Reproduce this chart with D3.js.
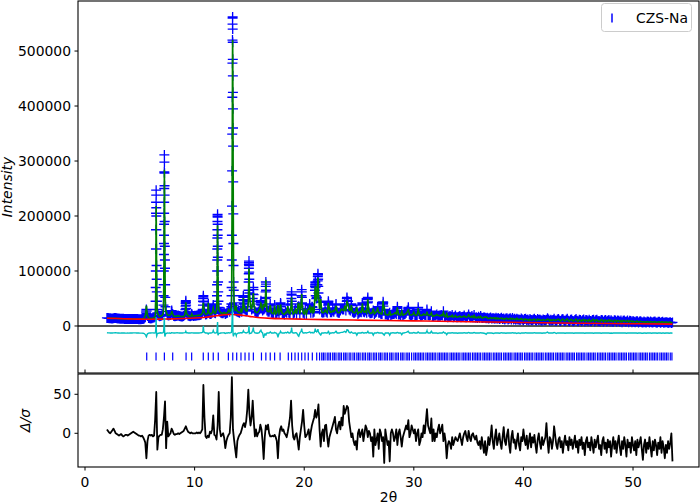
<!DOCTYPE html>
<html><head><meta charset="utf-8">
<script src="https://cdn.jsdelivr.net/npm/d3@7"></script>
<style>body{margin:0;background:#fff}svg{display:block}text{font-family:"DejaVu Sans",sans-serif;font-size:13.9px;fill:#000}</style>
</head><body><svg id="c" width="700" height="504"></svg>
<script>
// ---------- DATA ----------
const INTENSITY_UNIT = 1000; // intensities below are in thousands of counts
// regular scan: 2.0 .. 53.6 step 0.1
const scanStart = 2.0, scanStep = 0.1;
const yobsScan = [
14.6,14.4,14.1,13.9,13.7,13.8,14.0,14.3,14.6,14.0,
13.5,13.4,13.2,13.2,13.1,13.0,12.9,12.9,12.8,12.8,
12.7,12.7,12.6,12.7,12.8,12.9,12.9,12.7,12.5,12.4,
12.3,12.4,12.6,12.8,13.5,16.0,30.0,18.0,14.5,14.0,
13.8,14.2,14.8,15.5,17.0,215,24,19,17.5,18,
19,21,130,105,26,20,19,19.5,20,26,
22,18,17.5,18,18.5,19,18,17.5,17.2,17.2,
18,20,46,22,19,18,17.8,18.5,19,18.2,
18.5,18.8,19,19.3,19.6,20,21,24,55,25,
21,21.5,24,24,22,22,24,38,24,23,
30,198,30,26,24,23,23,25,22,23,
24,30,26,29,165,395,42,28,32,26,
25,24,27,26,35,40,30,27,28,45,
60,35,30,50,45,27,25,24,26,30,
40,38,28,30,32,80,28,26,26,40,
24,23,22,38,22,23,30,22,28,30,
23,22,21,26,24,38,24,22,40,30,
22,24,30,22,30,36,22,40,42,24,
22,30,22,30,32,40,24,35,24,26,
75,50,75,60,30,45,25,24,25,30,
26,24,45,30,25,25,28,26,30,40,
26,24,24,28,32,30,30,40,28,52,
45,30,28,40,26,24,24,26,30,22,
24,26,25,42,26,25,28,24,52,26,
23,23,24,28,22,24,26,35,24,24,
22,22,44,30,21,21,20,20,24,20,
21,22,22,24,22,35,21,21,20,24,
20,21,22,24,28,34,21,20,20,21,
26,20,19,20,34,22,19,19,20,22,
20,20,30,20,19,20,27,18,18,19,
19,21,18,19,18,20,19,27,18,17,
19,16,17,18,17,20,16,17,19,16,
16,17,18,16,16.5,17,19,16,16,17,
21,17,16,18,15.5,20,15,16,14.5,17,
15,18,15,14.5,16,15,14,15,13.5,14,
15.5,13.5,14,14,13,15,13,14.5,12.5,13.5,
15,12.5,13.5,12,13.5,14,12,13,14,12,
14.5,12,13,11.5,13,12,12,11,13.5,12,
10.5,12.5,13,11,12,10,12.5,11,10.5,12,
13,11,10,12.5,11,12,10.5,9.5,12,11,
10.5,11.5,14,12,9.5,11.5,10,11,13,10,
9.5,12,12.5,10,9,12,12.5,10,9,11.5,
13,9.5,8.5,11.5,12,9,8.5,11,12.5,9.5,
8.5,11.5,11,8.5,10.5,12,8,11,10.5,8.5,
11.5,9,8.5,11,11.5,8,10.5,11.5,8.5,9,
8,11,10.5,7.5,10,11,8,9.5,11,8,
10.5,8,7.5,10.5,10,7.5,10,9.5,7.5,10,
7,9.5,10,7.5,8,10,7,9.5,9,7,
9,7.5,7,8.5,8.5,6.5,8,8.5,7,6.5,
8,7,6.5,8,7.5,6.5,8,7,6.5,7.5,
8,6.5,6,7.5,7.5,6,7,7.5,6,6.5,
7,7,5.5,6.5,7,5.5,6.5];
// observed minus calculated on the scan (thousands of counts)
const ydiffScan = [
0.3,0.2,0.1,0,-0.1,0,0.2,0.3,0.5,0.2,
0,-0.1,-0.2,-0.1,0,-0.1,-0.1,-0.2,-0.2,-0.1,
-0.2,-0.1,-0.1,0,0.1,0.2,0.2,0,-0.1,-0.1,
-0.2,-0.2,-0.3,-0.4,-1.0,-3.0,-7.0,-1.5,-0.3,0,
0,0.2,0.2,0,0.3,18,-1,-0.5,0,0.3,
0,0.3,12,-5.5,-1,0,-0.2,0,-0.5,0.5,
0.2,0,0,0.1,0.3,0.2,0,0,0,0,
0.2,0.5,3,0.5,0,0,0,0.2,0.2,0,
0,0,0,0,0,0.2,0.3,1,13,1,
0,0,-0.3,-0.3,0,0,0.5,4.5,0.3,0,
0.5,17,-1,-0.5,0,0.1,0.2,0.3,-1,0,
0,0.5,0,0.5,14,3,-2,-0.5,-5,-1,
0,0,0.5,0,1,2,0.5,0,0.5,2,
-1,-0.5,0,5,3,0.3,0,-0.5,0,0.5,
4,2,0,-8,-2,-4,0,0,0,2,
0,0,0,1,0,-1,-8,-1,0.5,0.5,
0,0,0,1,0,2,0,0,3,1,
0,0,0.5,0,-3,-6,0,3,3,0,
0,0.5,0,0.5,1,2,0,1,0,0.5,
6,3,4,2,-1,-4,0,0,0,0.5,
0,0,3,-2,0,0,0.5,0,1,3,
0,0,0,0.5,1,1,2,3,1,6,
5,1,0,2,0,-0.5,0,0,-4,0,
0,0,0,1,0,0,0.5,0,3,0,
0,0,0,-4,0,0,0,1,0,0,
0,0,-2,-4,0,0,0,0,-4,0,
0,0.5,0,0,0,1,0,0,0,-3,
0,0,0.5,1,2,3,0,0,0,0,
1,0,0,0,2,0,0,0,0,0,
0,0,4,0,0,0,3,0,0,0,
0,0,-1,0,0,0,0,2,0,0,
-3,0,0,0,0,0.5,0,0,0,0,
-0.5,0,0,0,0,0,0.5,0,0,0,
1,0,0,0,0,1,0,0,0,0,
0,0.5,0,0,-0.5,-1,-2.5,0,0,0,
0,0,-0.5,-1,0,0,0,0,-0.5,0,
0.5,0,0,0,-0.5,0,0,0,0,0,
0.5,0,0,0,-1,0,0,-1,0,0,
0,0,0.5,0,0,0,0,0,0,0,
0.5,0,0,0,0,0,0,-0.5,0,0,
0,0.5,1.5,0,0,0,0,0,1,0,
-1,0,0,0,0,0,0,0,-0.5,0,
0,0,0,0,0,0,-0.5,0,0,0,
0,0,0,0,0,0,-0.5,0,0,0,
0,0,0,0,-0.5,0,0,0,0,0,
0,-0.5,0,0,0,0,0,0,0,-0.5,
0,-0.5,0,0,0,0,0,0,0,0,
0,0,0,0,-0.5,0,0,0,0,0,
0,0,0,0,-0.5,0,0,0,-0.5,-0.5,
0,0,-0.5,0,0,0,0,-0.5,0,0,
0,0,-0.5,0,0,0,-0.5,0,0,-0.5,
0,0,0,-0.5,0,0,-0.5];
// extra fine-step points measured across the sharp peaks
const tthFine = [
5.57,5.58,5.62,5.64,
6.42,6.43,6.44,6.45,6.46,6.47,6.475,6.48,6.485,6.49,6.495,6.505,6.51,6.52,6.53,6.54,6.55,6.56,6.58,
7.14,7.16,7.17,7.18,7.19,7.205,7.21,7.215,7.22,7.225,7.23,7.235,7.24,7.245,7.25,7.255,7.26,7.27,7.28,7.29,7.31,7.32,7.34,7.37,
7.88,7.91,7.93,
9.16,9.17,9.18,9.19,9.21,9.22,9.23,9.25,
9.72,9.74,
10.74,10.76,10.77,10.78,10.79,10.81,10.82,10.83,10.85,
11.22,11.24,11.25,11.26,11.28,
11.67,11.68,11.69,11.71,11.72,
12.03,12.04,12.05,12.06,12.065,12.07,12.075,12.08,12.085,12.09,12.095,12.105,12.11,12.115,12.12,12.13,12.14,12.15,12.17,12.19,12.22,
13.35,13.36,13.37,13.38,13.39,13.41,13.42,13.43,13.44,13.45,13.455,13.46,13.465,13.47,13.475,13.48,13.485,13.49,13.495,13.505,13.51,13.52,13.53,13.54,13.55,13.56,13.57,13.58,13.61,13.65,
13.78,13.79,13.81,13.82,
14.22,14.24,
14.42,14.43,14.44,14.45,14.46,14.47,
14.92,14.93,14.94,14.95,14.955,14.96,14.965,14.97,14.98,14.99,
15.33,15.35,15.36,15.37,15.38,
16.03,16.05,16.07,
16.29,16.31,
16.47,16.48,16.49,16.51,16.52,16.53,
16.88,
17.28,17.32,
17.59,17.61,
17.83,17.84,17.86,17.87,
18.83,18.84,18.85,18.86,18.87,
19.45,19.47,
19.75,19.76,19.77,19.78,19.79,
20.49,20.51,
20.73,20.75,
20.98,20.99,21.01,21.02,21.03,21.05,
21.13,21.15,
21.23,21.24,21.25,21.26,21.27,21.28,
21.49,21.51,
22.18,22.19,22.21,22.22,
22.89,22.91,
23.88,23.89,23.91,23.92,
24.29,24.31,
25.29,25.31,
25.78,25.79,25.81,25.82,
26.69,26.71,
27.19,27.21,27.22,
28.49,28.51,
29.49,29.51,
30.39,30.41,
31.19,31.21];
const yobsFine = [
24,27,27,22,
22,30,45,70,100,140,175,205,225,247,238,200,175,140,110,85,62,45,30,
26,38,55,75,100,150,165,185,205,225,250,280,311,298,278,255,238,190,145,120,75,52,35,26,
24,28,26,
30,36,41,44,43,38,32,25,
21,22,
30,38,45,50,53,50,44,38,30,
30,38,40,36,28,
30,34,37,36,32,
40,55,75,100,120,140,160,175,190,200,203,185,165,145,125,100,80,62,45,34,28,
35,40,55,70,120,218,282,349,416,478,520,549,560,562,540,516,485,455,425,360,327,262,204,150,110,80,65,55,38,30,
28,31,30,27,
30,29,
42,48,53,55,52,46,
65,80,95,105,112,118,115,110,98,85,
58,66,70,66,57,
43,46,44,
32,31,
50,62,72,76,65,52,
36,
32,33,
27,28,
38,42,40,35,
50,58,62,56,45,
35,34,
55,62,66,62,52,
37,38,
35,34,
65,72,80,78,70,55,
50,52,
82,90,95,93,85,72,
43,44,
38,42,44,40,
38,39,
45,50,50,46,
38,37,
38,40,
42,48,50,44,
32,33,
40,42,36,
32,33,
32,31,
31,30,
28,27];
const ydiffFine = [
-5,-6.5,-6,-4,
0.5,1.5,3,6,9,13,17,21,24,29,27,12,5,0,-4,-5.5,-5,-4,-2,
1,2,3.5,6,9,14,16,18,20,22,25,27,27,22,15,10,5,-2,-5,-5.5,-5,-4,-2.5,-1,
0,0.5,0.3,
1,1.5,2,2.5,2.5,1.5,1,0.5,
0.2,0.3,
2,4,7,10,12,10,6,4,2,
-1,-2,-2,-1.5,-0.5,
2,3,4,4,3,
1.5,3,5,8,10,12,14,15,17,19,20,12,6,2,-1,-3,-3.5,-3.5,-2.5,-1.5,-0.8,
1,2,3,5,9,19,25,31,36,41,43,45,44,42,32,22,15,10,6,0,-2,-4,-5,-6,-5,-4,-3.5,-3,-2,-1,
-3,-4.5,-4,-2.5,
0.5,0.5,
2,3,3.5,4,3.5,3,
4,6,8,10,12,13,11,8,5,2,
7,9,10,8,6,
4.5,5,4,
-8,-7,
-2,-3,-4,-4,-3,-2,
1.5,
0.5,0.8,
-6,-7,
2,3,2.5,1.5,
6,8,10,8,5,
-5,-5.5,
5,7,8,7,5,
2,2,
1,1,
5,6,8,7,5,3,
2,2.5,
5,6,7,6,4,3,
-3.5,-4,
2,2.5,3,2.5,
3,3,
4,5,6,5,
2,1.5,
1,1,
2,2.5,3,2,
1,1,
-1.5,-2,-2.5,
1,1,
3,2.5,
2,1.5,
3.5,3];
// background (thousands of counts)
const bkgT = [2,3,4,5,6,7,8,9,10,11,12,13,13.5,14,15,16,17,18,20,22,25,30,35,40,45,50,53.6];
const bkgY = [14,13.5,13,12.4,12.3,12.5,13,13.6,14.5,16,18.5,20.8,21,20.2,17.5,15,13.8,13.2,12.3,11.6,10.7,9.3,7.8,6.3,5,4,3.4];
const diffOffset = -12.7; // thousands
// normalised difference, sampled from 2.0 with 0.1 step
const dsStart = 2.0, dsStep = 0.1;
const dsig = [
5,3,1,0,2,4,6,3,0,-1,
-2,-3,-2,-1,-3,-4,-3,-2,-2,-3,
-2,-1,0,1,2,1,0,-1,-2,-3,
-3,-4,-3,-5,-8,-12,-32,-10,-3,-2,
-3,-2,-4,-3,18,53,-21,-5,-3,-2,
-2,5,20,41,-19,15,-4,-2,0,6,
3,-1,-2,-1,-1,0,-1,0,1,2,
3,6,9,5,2,1,0,1,0,0,
0,0,1,0,1,0,2,5,62,20,
-4,-6,-3,-5,2,0,5,23,-2,-3,
-8,10,53,5,-4,-2,0,-6,-19,-10,
-5,-2,0,20,72,5,-8,-20,-31,-10,
-5,-2,0,5,10,13,8,15,30,56,
25,10,20,42,15,-4,5,-4,0,2,
11,5,-10,-33,-5,10,5,11,0,-4,
-4,-3,-4,-2,-5,-10,-32,-5,5,9,
3,5,0,-2,-5,2,10,20,42,10,
-5,-8,-2,0,-10,-21,-5,5,15,30,
10,-5,-3,0,5,-8,2,10,15,20,
30,20,25,37,5,-17,0,5,-10,10,
11,-5,-17,-5,0,5,10,15,21,5,
0,10,15,5,20,10,35,25,30,35,
33,15,5,-5,0,-10,-15,-10,-21,0,
5,-5,0,5,-10,0,10,6,-5,3,
0,-10,-5,-30,5,-15,-8,0,-20,5,
0,-10,-5,-38,5,-5,-15,-10,-36,0,
5,0,-10,-5,5,-15,0,5,-5,-17,
-5,0,5,10,5,17,-5,0,10,5,
0,5,-10,0,5,-15,-10,0,-5,10,
0,15,31,10,5,0,19,-10,5,-10,
0,-5,5,11,0,5,11,-10,0,-10,
-32,-15,-10,-13,-20,-5,-15,-10,-5,-8,
-10,-5,0,-8,-15,-5,0,3,-5,-10,
3,-5,-10,-2,0,-5,-8,-3,-12,-15,
-10,-20,-5,-15,-25,-10,-28,-20,-5,-15,
-5,10,-10,-20,-5,5,-15,-8,0,-12,
-20,-5,8,-10,-15,-2,5,-15,-25,-5,
3,-12,-8,-20,-10,0,-15,-22,-5,-10,
5,-8,-15,-3,-20,-10,0,-18,-5,-12,
-2,-15,-25,-8,0,-12,-20,-5,-15,-10,
-5,13,-10,-25,-5,-8,-20,-10,9,-3,
-15,-20,-8,-5,-18,-10,-25,-12,-3,-15,
-10,-22,-5,-15,-8,-20,-12,-3,-18,-10,
-25,-8,-15,-5,-20,-12,-28,-10,-5,-18,
-12,-22,-5,-15,-25,-8,-18,-10,-3,-20,
-15,-28,-10,-5,-20,-12,-25,-8,-18,-10,
-30,-15,-5,-20,-10,-25,-12,-3,-18,-28,
-10,-20,-5,-15,-30,-8,-18,-12,-25,-5,
-15,-22,-10,-28,-8,-18,-12,-5,-20,-34,
-15,-8,-25,-12,-20,-5,-18,-30,-10,-22,
-8,-15,-28,-12,-20,-5,-25,-10,-18,-32,
-15,-25,-10,-20,-12,0,-36];
// reflection positions (2θ)
const refl = [5.63,6.48,7.24,8.0,9.22,9.73,10.79,11.25,11.7,12.16,13.08,13.48,13.84,14.23,14.6,14.96,15.36,16.1,16.5,16.9,17.3,17.8,18.55,18.85,19.16,19.46,19.77,20.07,20.37,20.74,21.14,
21.4,21.6,21.75,21.9,22.1,22.25,22.4,22.6,22.75,22.9,23.1,23.25,23.4,23.6,23.75,23.9,24.1,24.25,24.45,24.6,24.8,24.95,25.1,25.3,25.45,25.6,25.8,25.95,26.1,26.3,26.45,26.6,26.8,26.95,27.1,27.3,27.45,27.6,27.8,27.95,28.1,28.3,28.45,28.6,28.8,28.95,29.1,29.3,29.45,29.6,29.8,
30.0,30.15,30.3,30.45,30.6,30.75,30.9,31.1,31.25,31.4,31.55,31.7,31.85,32.0,32.2,32.35,32.5,32.65,32.8,32.95,33.1,33.3,33.45,33.6,33.75,33.9,34.05,34.2,34.4,34.55,34.7,34.85,35.0,35.15,35.35,35.5,35.65,35.8,35.95,36.1,36.3,36.45,36.6,36.75,36.9,37.05,37.25,37.4,37.55,37.7,37.85,38.0,38.2,38.35,38.5,38.65,38.8,38.95,39.15,39.3,39.45,39.6,39.75,39.9,
40.1,40.25,40.4,40.55,40.7,40.85,41.05,41.2,41.35,41.5,41.65,41.8,42.0,42.15,42.3,42.45,42.6,42.75,42.95,43.1,43.25,43.4,43.55,43.7,43.9,44.05,44.2,44.35,44.5,44.65,44.85,45.0,45.15,45.3,45.45,45.6,45.8,45.95,46.1,46.25,46.4,46.55,46.75,46.9,47.05,47.2,47.35,47.5,47.7,47.85,48.0,48.15,48.3,48.45,48.65,48.8,48.95,49.1,49.25,49.4,49.6,49.75,49.9,
50.05,50.2,50.35,50.55,50.7,50.85,51.0,51.15,51.3,51.5,51.65,51.8,51.95,52.1,52.25,52.45,52.6,52.75,52.9,53.05,53.2,53.4,53.55];
const reflLevel = -55500;
const xTickVals = [0,10,20,30,40,50];
const yTickMain = [0,100000,200000,300000,400000,500000];
const yTickLow = [0,50];
const phaseName = "CZS-Na";

// ---------- DRAW ----------
const svg = d3.select('#c');
const L = 78, R = 699, T1 = 1, B1 = 373, T2 = 374, B2 = 467;
const x = d3.scaleLinear().domain([-0.64, 56.02]).range([L, R]);
const yM = d3.scaleLinear().domain([-85500, 591000]).range([B1, T1]);
const yL = d3.scaleLinear().domain([-43.2, 76]).range([B2, T2]);

// merge scan and fine points
const pts = [];
yobsScan.forEach((v,i)=>pts.push([+(scanStart + i*scanStep).toFixed(3), v, ydiffScan[i]]));
tthFine.forEach((t,i)=>pts.push([t, yobsFine[i], ydiffFine[i]]));
pts.sort((a,b)=>a[0]-b[0]);

const defs = svg.append('defs');
defs.append('clipPath').attr('id','cm').append('rect').attr('x',L).attr('y',T1).attr('width',R-L).attr('height',B1-T1);
defs.append('clipPath').attr('id','cl').append('rect').attr('x',L).attr('y',T2).attr('width',R-L).attr('height',B2-T2);

const gM = svg.append('g').attr('clip-path','url(#cm)');
gM.append('line').attr('x1',L).attr('x2',R).attr('y1',yM(0)).attr('y2',yM(0)).attr('stroke','#555').attr('stroke-width',1.8);

// observed '+' markers
let p = '';
pts.forEach(d=>{
  const px = x(d[0]), py = yM(d[1]*INTENSITY_UNIT);
  p += `M${(px-5).toFixed(2)},${py.toFixed(2)}h10M${px.toFixed(2)},${(py-5).toFixed(2)}v10`;
});
gM.append('path').attr('d',p).attr('stroke','#0000ff').attr('stroke-width',1.3).attr('fill','none');

// calculated = observed - difference
const lineM = d3.line().x(d=>x(d[0])).y(d=>yM(d[1]*INTENSITY_UNIT));
gM.append('path').attr('d',lineM(pts.map(d=>[d[0], d[1]-d[2]]))).attr('stroke','#008000').attr('stroke-width',1.6).attr('fill','none');
// background
const lineB = d3.line().x(d=>x(d[0])).y(d=>yM(d[1]*INTENSITY_UNIT)).curve(d3.curveMonotoneX);
gM.append('path').attr('d',lineB(bkgT.map((t,i)=>[t,bkgY[i]]))).attr('stroke','#ff0000').attr('stroke-width',1.6).attr('fill','none');
// difference curve
gM.append('path').attr('d',lineM(pts.map(d=>[d[0], d[2]+diffOffset]))).attr('stroke','#00bfbf').attr('stroke-width',1.4).attr('fill','none');
// reflection ticks
let rp='';
const ry = yM(reflLevel);
refl.forEach(t=>{ rp += `M${x(t).toFixed(2)},${(ry-4).toFixed(2)}v8`; });
gM.append('path').attr('d',rp).attr('stroke','#0000ff').attr('stroke-width',1.2).attr('fill','none');

// main axes frame
svg.append('rect').attr('x',L).attr('y',T1).attr('width',R-L).attr('height',B1-T1).attr('fill','none').attr('stroke','#000').attr('stroke-width',1.1);
yTickMain.forEach(v=>{
  const yy = yM(v);
  svg.append('line').attr('x1',L-3.5).attr('x2',L).attr('y1',yy).attr('y2',yy).attr('stroke','#000').attr('stroke-width',1);
  svg.append('text').attr('x',L-7).attr('y',yy+5).attr('text-anchor','end').text(String(v));
});
xTickVals.forEach(v=>{
  svg.append('line').attr('x1',x(v)).attr('x2',x(v)).attr('y1',B1-3.5).attr('y2',B1).attr('stroke','#000').attr('stroke-width',1);
});
svg.append('text').attr('transform',`translate(12,${(T1+B1)/2}) rotate(-90)`).attr('text-anchor','middle').style('font-style','italic').text('Intensity');

// legend
svg.append('rect').attr('x',601.5).attr('y',3.5).attr('width',90).attr('height',28).attr('rx',3).attr('fill','#fff').attr('fill-opacity',0.8).attr('stroke','#ccc').attr('stroke-width',1);
svg.append('line').attr('x1',612).attr('x2',612).attr('y1',13.5).attr('y2',22.5).attr('stroke','#0000ff').attr('stroke-width',1.5);
svg.append('text').attr('x',636).attr('y',23.3).text(phaseName);

// lower panel
const gL = svg.append('g').attr('clip-path','url(#cl)');
const lineL = d3.line().x((d,i)=>x(dsStart + i*dsStep)).y(d=>yL(d));
gL.append('path').attr('d',lineL(dsig)).attr('stroke','#000').attr('stroke-width',1.8).attr('fill','none').attr('stroke-linejoin','round');
svg.append('rect').attr('x',L).attr('y',T2).attr('width',R-L).attr('height',B2-T2).attr('fill','none').attr('stroke','#000').attr('stroke-width',1.1);
yTickLow.forEach(v=>{
  const yy = yL(v);
  svg.append('line').attr('x1',L-3.5).attr('x2',L).attr('y1',yy).attr('y2',yy).attr('stroke','#000');
  svg.append('text').attr('x',L-7).attr('y',yy+5).attr('text-anchor','end').text(String(v));
});
xTickVals.forEach(v=>{
  svg.append('line').attr('x1',x(v)).attr('x2',x(v)).attr('y1',B2).attr('y2',B2+3.5).attr('stroke','#000');
  svg.append('text').attr('x',x(v)).attr('y',B2+19.5).attr('text-anchor','middle').text(String(v));
});
svg.append('text').attr('x',(L+R)/2).attr('y',502).attr('text-anchor','middle').text('2θ');
svg.append('text').attr('transform',`translate(30,${(T2+B2)/2}) rotate(-90)`).attr('text-anchor','middle').style('font-style','italic').text('Δ/σ');
</script>
</body></html>
